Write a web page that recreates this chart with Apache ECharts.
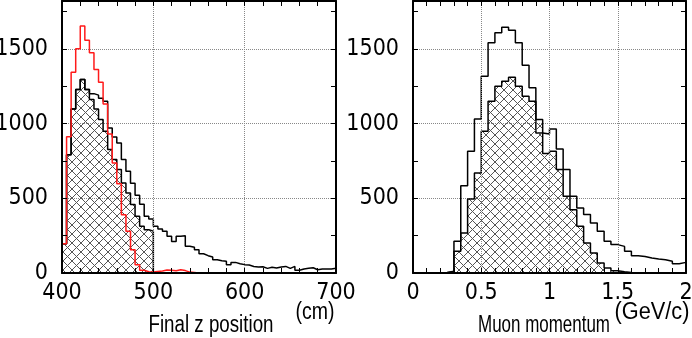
<!DOCTYPE html>
<html>
<head>
<meta charset="utf-8">
<script src="https://cdn.jsdelivr.net/npm/echarts@6/dist/echarts.min.js"></script>
<style>
html,body{margin:0;padding:0;background:#fff;}
#c{width:692px;height:338px;}
</style>
</head>
<body>
<div id="c"></div>
<script>
// ---- Left panel: Final z position (cm), 5 cm bins from 400 ----
const zBinStart = 400;
const zBinWidth = 5;
const zAll = [196, 792, 1098, 1228, 1295, 1228, 1200, 1190, 1170, 1150,
              970, 910, 870, 760, 680, 600, 520, 460, 380, 362,
              312, 295, 279, 246, 210, 246, 250, 179, 172, 156,
              129, 116, 107, 89, 82, 78, 56, 71, 62, 56,
              53, 44, 40, 42, 31, 38, 33, 40, 44, 31,
              44, 18, 27, 31, 35, 22, 27, 27, 27, 31];
const zSel = [196, 792, 1098, 1228, 1295, 1228, 1161, 1098, 1027, 948,
              826, 759, 692, 603, 536, 458, 380, 313, 290, 280];
const zRed = [196, 911, 1344, 1500, 1652, 1558, 1473, 1362, 1277, 1130,
              930, 736, 598, 390, 279, 156, 56, 18, 8, 6,
              10, 14, 20, 18, 15, 22, 16, 6, 3, 0];

// ---- Right panel: Muon momentum (GeV/c), 0.05 bins from 0 ----
const pBinStart = 0;
const pBinWidth = 0.05;
const pAll = [0, 0, 0, 0, 3, 12, 212, 584, 815, 1031,
              1317, 1540, 1607, 1645, 1625, 1540, 1390, 1239, 937, 930,
              964, 830, 692, 513, 435, 391, 335, 279, 212, 190,
              178, 145, 116, 111, 100, 94, 89, 78, 62, 71];
const pSel = [0, 0, 0, 0, 2, 8, 145, 268, 495, 669,
              948, 1150, 1250, 1283, 1310, 1250, 1183, 1150, 1027, 800,
              815, 692, 513, 424, 312, 200, 133, 67, 33, 15,
              8, 4];
const yTicks = [0, 500, 1000, 1500];

function histPoints(start, width, vals) {
  const pts = [[start, 0]];
  for (let i = 0; i < vals.length; i++) {
    pts.push([+(start + i * width).toFixed(6), vals[i]]);
  }
  pts.push([+(start + vals.length * width).toFixed(6), 0]);
  return pts;
}

// ---- pick a condensed font if one is installed ----
const mctx = document.createElement('canvas').getContext('2d');
function fontAvailable(name) {
  const s = 'Final z position 1500';
  mctx.font = '40px monospace'; const a = mctx.measureText(s).width;
  mctx.font = "40px '" + name + "', monospace"; const b = mctx.measureText(s).width;
  mctx.font = '40px serif'; const c2 = mctx.measureText(s).width;
  mctx.font = "40px '" + name + "', serif"; const d = mctx.measureText(s).width;
  return a !== b || c2 !== d;
}
const narrowCandidates = ['Liberation Sans Narrow', 'DejaVu Sans Condensed', 'Noto Sans Condensed',
                          'Roboto Condensed', 'Open Sans Condensed', 'Arial Narrow'];
let narrow = null;
for (const f of narrowCandidates) { if (fontAvailable(f)) { narrow = f; break; } }
const FONT = narrow ? "'" + narrow + "', 'Liberation Sans', sans-serif" : "'Liberation Sans', Arial, sans-serif";
const TICK_FS = narrow ? 23 : 21;
const TITLE_FONT = "'Liberation Sans', Arial, sans-serif";
const TITLE_FS = 23;
function fitScale(text, targetW) {
  mctx.font = TITLE_FS + 'px ' + TITLE_FONT;
  return targetW / mctx.measureText(text).width;
}
function titleText(text, cx, cy, w) {
  return { type: 'text', x: cx, y: cy, scaleX: fitScale(text, w),
    style: { text: text, fontFamily: TITLE_FONT, fontSize: TITLE_FS, fill: '#000', align: 'center', verticalAlign: 'middle' } };
}

// crosshatch pattern
const pc = document.createElement('canvas');
pc.width = 9; pc.height = 9;
const g = pc.getContext('2d');
g.strokeStyle = '#555';
g.lineWidth = 1;
g.beginPath();
g.moveTo(-1, -1); g.lineTo(10, 10);
g.moveTo(-1, 10); g.lineTo(10, -1);
g.stroke();
const hatch = { image: pc, repeat: 'repeat' };

const YMAX = 1820;

function xAxes(gi, min, max, interval, split) {
  return [
    {
      type: 'value', gridIndex: gi, min: min, max: max, interval: interval, position: 'bottom',
      axisLine: { show: true, onZero: false, lineStyle: { color: '#000', width: 2 } },
      axisTick: { show: true, inside: true, length: 5, lineStyle: { color: '#000', width: 1 } },
      minorTick: { show: true, splitNumber: split, length: 5, lineStyle: { color: '#000', width: 1 } },
      splitLine: { show: true, lineStyle: { type: 'dotted', color: '#888', width: 1 } },
      axisLabel: { show: true, color: '#000', fontFamily: FONT, fontSize: TICK_FS, margin: 9,
        showMinLabel: true, showMaxLabel: true, hideOverlap: false },
      z: 10
    },
    {
      type: 'value', gridIndex: gi, min: min, max: max, interval: interval, position: 'top',
      axisLine: { show: true, onZero: false, lineStyle: { color: '#000', width: 2 } },
      axisTick: { show: true, inside: true, length: 5, lineStyle: { color: '#000', width: 1 } },
      minorTick: { show: true, splitNumber: split, length: 5, lineStyle: { color: '#000', width: 1 } },
      splitLine: { show: false },
      axisLabel: { show: false },
      z: 10
    }
  ];
}
function yAxes(gi) {
  return [
    {
      type: 'value', gridIndex: gi, min: 0, max: YMAX, interval: 250, position: 'left',
      axisLine: { show: true, onZero: false, lineStyle: { color: '#000', width: 2 } },
      axisTick: { show: true, inside: true, length: 5, lineStyle: { color: '#000', width: 1 } },
      splitLine: { show: false },
      axisLabel: { show: true, color: '#000', fontFamily: FONT, fontSize: TICK_FS, margin: 14,
        showMaxLabel: false,
        formatter: function (v) { return yTicks.indexOf(v) >= 0 ? String(v) : ''; } },
      z: 10
    },
    {
      type: 'value', gridIndex: gi, min: 0, max: YMAX, interval: 250, position: 'right',
      axisLine: { show: true, onZero: false, lineStyle: { color: '#000', width: 2 } },
      axisTick: { show: true, inside: true, length: 5, lineStyle: { color: '#000', width: 1 } },
      splitLine: { show: false },
      axisLabel: { show: false },
      z: 10
    },
    {
      type: 'value', gridIndex: gi, min: 0, max: YMAX, interval: 500, position: 'left',
      axisLine: { show: false }, axisTick: { show: false }, axisLabel: { show: false },
      splitLine: { show: true, lineStyle: { type: 'dotted', color: '#888', width: 1 } }
    }
  ];
}

const lineBase = { type: 'line', step: 'end', symbol: 'none', showSymbol: false, animation: false, silent: true };

const option = {
  animation: false,
  backgroundColor: '#fff',
  grid: [
    { left: 62, right: 356, top: 1, bottom: 65, containLabel: false, outerBoundsMode: 'none' },
    { left: 413, right: 6, top: 1, bottom: 65, containLabel: false, outerBoundsMode: 'none' }
  ],
  xAxis: [].concat(xAxes(0, 400, 700, 100, 5), xAxes(1, 0, 2, 0.5, 5)),
  yAxis: [].concat(yAxes(0), yAxes(1)),
  series: [
    Object.assign({}, lineBase, { name: 'zAll', xAxisIndex: 0, yAxisIndex: 0, data: histPoints(zBinStart, zBinWidth, zAll),
      lineStyle: { color: '#000', width: 1.5 }, z: 3 }),
    Object.assign({}, lineBase, { name: 'zSel', xAxisIndex: 0, yAxisIndex: 0, data: histPoints(zBinStart, zBinWidth, zSel),
      lineStyle: { color: '#000', width: 1.5 }, areaStyle: { color: hatch, opacity: 1 }, z: 4 }),
    Object.assign({}, lineBase, { name: 'zRed', xAxisIndex: 0, yAxisIndex: 0, data: histPoints(zBinStart, zBinWidth, zRed),
      lineStyle: { color: '#ff1a1a', width: 1.5 }, z: 5 }),
    Object.assign({}, lineBase, { name: 'pAll', xAxisIndex: 2, yAxisIndex: 3, data: histPoints(pBinStart, pBinWidth, pAll),
      lineStyle: { color: '#000', width: 1.5 }, z: 3 }),
    Object.assign({}, lineBase, { name: 'pSel', xAxisIndex: 2, yAxisIndex: 3, data: histPoints(pBinStart, pBinWidth, pSel),
      lineStyle: { color: '#000', width: 1.5 }, areaStyle: { color: hatch, opacity: 1 }, z: 4 })
  ],
  graphic: [
    titleText('Final z position', 211, 326, 125),
    titleText('(cm)', 315, 313, 39),
    titleText('Muon momentum', 544, 326, 132),
    titleText('(GeV/c)', 652, 313, 75)
  ]
};

const chart = echarts.init(document.getElementById('c'), null, { renderer: 'canvas' });
chart.setOption(option);
</script>
</body>
</html>
